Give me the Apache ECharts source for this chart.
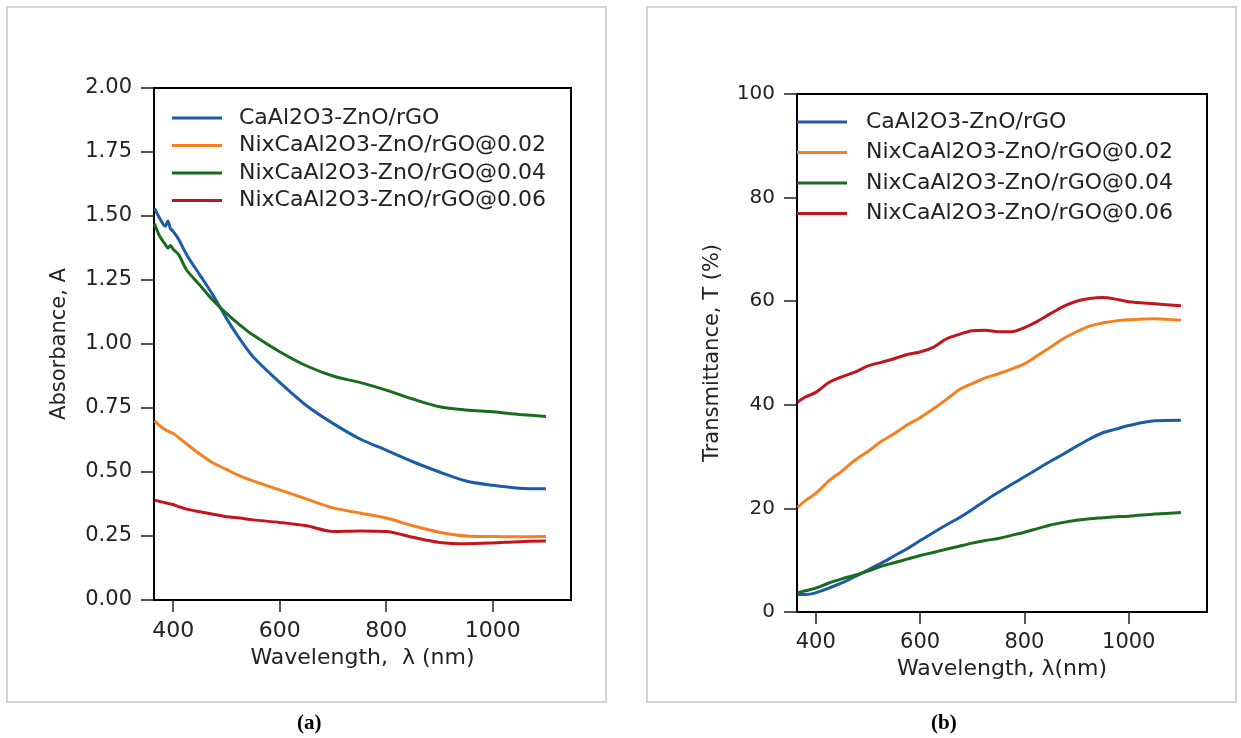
<!DOCTYPE html>
<html>
<head>
<meta charset="utf-8">
<script src="https://cdn.jsdelivr.net/npm/echarts@6/dist/echarts.min.js"></script>
<style>
html, body { margin: 0; padding: 0; background: #fff; }
#chart { width: 1241px; height: 738px; }
</style>
</head>
<body>
<div id="chart"></div>
<script>
var myChart = echarts.init(document.getElementById('chart'));

var names = ['CaAl2O3-ZnO/rGO', 'NixCaAl2O3-ZnO/rGO@0.02', 'NixCaAl2O3-ZnO/rGO@0.04', 'NixCaAl2O3-ZnO/rGO@0.06'];
var colors = ['#1d5ba6', '#f4801f', '#1b6b1f', '#c2161f'];
var xTicks = [400, 600, 800, 1000];

// (a) absorbance
var wlA = [365, 375, 385, 390, 395, 400, 410, 425, 450, 475, 500, 525, 550, 600, 650, 700, 750, 800, 850, 900, 950, 1000, 1050, 1100];
var absBase = [1.53, 1.49, 1.46, 1.48, 1.45, 1.44, 1.41, 1.35, 1.27, 1.19, 1.10, 1.02, 0.95, 0.85, 0.76, 0.69, 0.63, 0.585, 0.54, 0.50, 0.465, 0.448, 0.437, 0.435];
var abs002 = [0.70, 0.68, 0.665, 0.66, 0.655, 0.65, 0.635, 0.61, 0.57, 0.535, 0.51, 0.485, 0.465, 0.43, 0.395, 0.36, 0.34, 0.32, 0.29, 0.265, 0.25, 0.248, 0.247, 0.248];
var abs004 = [1.47, 1.42, 1.39, 1.375, 1.385, 1.37, 1.35, 1.29, 1.23, 1.17, 1.12, 1.075, 1.035, 0.97, 0.915, 0.875, 0.85, 0.82, 0.785, 0.755, 0.742, 0.735, 0.725, 0.717];
var abs006 = [0.39, 0.385, 0.38, 0.378, 0.375, 0.373, 0.365, 0.355, 0.345, 0.335, 0.325, 0.32, 0.313, 0.303, 0.29, 0.268, 0.27, 0.268, 0.245, 0.225, 0.22, 0.223, 0.228, 0.23];

// (b) transmittance
var wlB = [365, 380, 400, 425, 450, 475, 500, 525, 550, 575, 600, 625, 650, 675, 700, 725, 750, 775, 800, 825, 850, 875, 900, 925, 950, 975, 1000, 1050, 1100];
var trBase = [3.4, 3.4, 3.7, 4.6, 5.6, 6.8, 8.1, 9.4, 10.8, 12.2, 13.8, 15.3, 16.8, 18.2, 19.8, 21.5, 23.1, 24.6, 26.1, 27.6, 29.1, 30.5, 32.0, 33.4, 34.6, 35.3, 36.0, 36.9, 37.0];
var tr002 = [20.2, 21.5, 22.9, 25.3, 27.2, 29.3, 31.0, 32.9, 34.4, 36.1, 37.5, 39.2, 41.0, 42.9, 44.1, 45.2, 46.0, 46.9, 47.9, 49.5, 51.1, 52.8, 54.1, 55.2, 55.8, 56.2, 56.4, 56.6, 56.3];
var tr004 = [3.7, 4.1, 4.6, 5.6, 6.4, 7.1, 7.9, 8.8, 9.5, 10.2, 10.9, 11.5, 12.1, 12.7, 13.3, 13.8, 14.2, 14.8, 15.4, 16.1, 16.8, 17.3, 17.7, 18.0, 18.2, 18.4, 18.5, 18.9, 19.2];
var tr006 = [40.5, 41.5, 42.4, 44.3, 45.4, 46.3, 47.5, 48.2, 48.9, 49.7, 50.2, 51.1, 52.7, 53.6, 54.3, 54.4, 54.1, 54.1, 54.9, 56.1, 57.6, 59.0, 60.0, 60.5, 60.7, 60.4, 59.9, 59.5, 59.1];

var absData = [absBase, abs002, abs004, abs006];
var trData = [trBase, tr002, tr004, tr006];

var font = 'DejaVu Sans';

function pairs(xs, ys) {
	return xs.map(function (x, i) { return [x, ys[i]]; });
}

function makeSeries(xs, list, idx) {
	return list.map(function (ys, i) {
		return {
			name: names[i],
			type: 'line',
			xAxisIndex: idx,
			yAxisIndex: idx,
			smooth: 0.3,
			showSymbol: false,
			lineStyle: { width: 3, color: colors[i] },
			itemStyle: { color: colors[i] },
			data: pairs(xs, ys)
		};
	});
}

function xAxisOf(idx, max, title, gap, size) {
	return {
		type: 'value',
		gridIndex: idx,
		min: 364,
		max: max,
		name: title,
		nameLocation: 'middle',
		nameGap: gap,
		nameTextStyle: { fontFamily: font, fontSize: 22, color: '#222' },
		axisLine: { show: true, lineStyle: { color: '#000', width: 2 } },
		axisTick: { show: true, length: 12, customValues: xTicks, lineStyle: { color: '#222', width: 1.5 } },
		axisLabel: {
			customValues: xTicks,
			margin: 20,
			fontFamily: font,
			fontSize: size,
			color: '#222',
			formatter: function (v) { return String(v); }
		},
		splitLine: { show: false }
	};
}

function yAxisOf(idx, max, interval, title, gap, size, digits) {
	return {
		type: 'value',
		gridIndex: idx,
		min: 0,
		max: max,
		interval: interval,
		name: title,
		nameLocation: 'middle',
		nameGap: gap,
		nameTextStyle: { fontFamily: font, fontSize: 21, color: '#222' },
		axisLine: { show: true, lineStyle: { color: '#000', width: 2 } },
		axisTick: { show: true, length: 13, lineStyle: { color: '#222', width: 1.5 } },
		axisLabel: {
			margin: 22,
			fontFamily: font,
			fontSize: size,
			color: '#222',
			formatter: function (v) { return v.toFixed(digits); }
		},
		splitLine: { show: false }
	};
}

function legendOf(left, top, gap, size, pad) {
	return {
		data: names,
		orient: 'vertical',
		left: left,
		top: top,
		padding: 0,
		icon: 'rect',
		itemWidth: 50,
		itemHeight: 3,
		itemGap: gap,
		textStyle: { fontFamily: font, fontSize: size, color: '#222', lineHeight: 20, padding: [0, 0, 0, pad] }
	};
}

option = {
	backgroundColor: '#fff',
	animation: false,
	grid: [
		{ left: 154, top: 88, width: 417, height: 512, show: true, borderColor: '#000', borderWidth: 2, backgroundColor: 'transparent' },
		{ left: 797, top: 94, width: 410, height: 518, show: true, borderColor: '#000', borderWidth: 2, backgroundColor: 'transparent' }
	],
	legend: [
		legendOf(172, 107, 5.5, 22, 12),
		legendOf(797, 111, 8.5, 22, 14)
	],
	xAxis: [
		xAxisOf(0, 1147, 'Wavelength,  \u03bb (nm)', 43, 22),
		xAxisOf(1, 1150, 'Wavelength, \u03bb(nm)', 44, 21)
	],
	yAxis: [
		yAxisOf(0, 2, 0.25, 'Absorbance, A', 84, 21, 2),
		yAxisOf(1, 100, 20, 'Transmittance, T (%)', 74, 20, 0)
	],
	series: makeSeries(wlA, absData, 0).concat(makeSeries(wlB, trData, 1)),
	graphic: [
		{ type: 'rect', shape: { x: 7, y: 7, width: 599, height: 695 }, style: { fill: 'none', stroke: '#d4d4d4', lineWidth: 2 }, silent: true },
		{ type: 'rect', shape: { x: 647, y: 7, width: 589, height: 695 }, style: { fill: 'none', stroke: '#d4d4d4', lineWidth: 2 }, silent: true },
		{ type: 'text', left: 297, top: 713, style: { text: '(a)', font: 'bold 21px "Liberation Serif"', fill: '#000' } },
		{ type: 'text', left: 931, top: 713, style: { text: '(b)', font: 'bold 21px "Liberation Serif"', fill: '#000' } }
	]
};
myChart.setOption(option);
</script>
</body>
</html>
